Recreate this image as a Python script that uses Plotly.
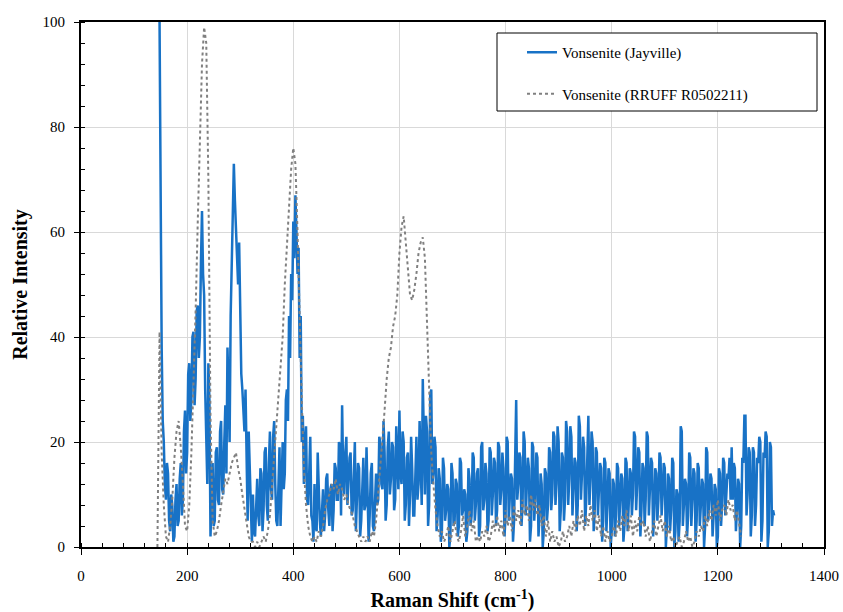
import plotly.graph_objects as go

# Raman shift grids (cm-1)
jayville_x = list(range(148, 1308, 2))
rruff_x = list(range(144, 1248, 4))

# Vonsenite (Jayville) relative intensity
jayville_y = [
    100, 60, 38, 24, 20, 12, 9, 16, 14, 5, 3, 10, 8, 1, 2, 9, 12, 4, 5, 13,
    16, 6, 9, 22, 26, 14, 18, 33, 35, 24, 28, 40, 41, 27, 32, 45, 46, 36, 40, 54,
    64, 52, 48, 30, 22, 12, 35, 28, 2, 10, 16, 4, 5, 18, 19, 9, 8, 22, 24, 11,
    10, 20, 27, 14, 38, 30, 20, 44, 55, 62, 73, 66, 60, 52, 50, 58, 40, 33, 30, 25,
    22, 30, 12, 5, 22, 13, 4, 1, 10, 3, 2, 8, 13, 6, 4, 15, 14, 3, 7, 18,
    19, 8, 5, 16, 22, 11, 9, 21, 24, 12, 5, 4, 12, 19, 4, 10, 20, 11, 14, 28,
    30, 24, 44, 36, 52, 47, 62, 55, 67, 60, 52, 57, 36, 44, 20, 25, 12, 20, 23, 9,
    8, 14, 21, 6, 5, 1, 12, 4, 3, 18, 9, 5, 2, 8, 11, 3, 6, 13, 14, 7,
    4, 11, 12, 3, 7, 16, 15, 9, 9, 20, 19, 6, 27, 14, 10, 18, 21, 8, 13, 17,
    18, 6, 7, 14, 20, 3, 11, 16, 15, 2, 5, 13, 17, 7, 8, 19, 12, 1, 6, 14,
    16, 4, 3, 11, 14, 8, 9, 21, 20, 12, 11, 24, 18, 5, 8, 19, 22, 10, 13, 20,
    19, 7, 9, 23, 17, 11, 26, 14, 12, 22, 20, 5, 8, 17, 18, 4, 10, 21, 15, 6,
    6, 16, 21, 9, 12, 24, 17, 8, 32, 20, 10, 25, 22, 4, 8, 29, 30, 12, 14, 21,
    19, 3, 6, 15, 13, 1, 3, 17, 15, 5, 7, 12, 11, 0, 2, 16, 14, 4, 5, 13,
    12, 2, 4, 17, 16, 6, 7, 11, 10, 1, 3, 15, 13, 4, 6, 18, 17, 5, 8, 14,
    15, 2, 4, 19, 20, 7, 9, 16, 14, 3, 5, 19, 18, 6, 10, 17, 16, 4, 7, 20,
    19, 8, 11, 18, 15, 2, 6, 21, 20, 5, 9, 14, 13, 1, 5, 22, 28, 9, 12, 18,
    17, 4, 8, 22, 20, 6, 11, 17, 15, 1, 4, 20, 19, 5, 9, 18, 17, 2, 6, 14,
    12, 0, 3, 15, 14, 5, 8, 19, 18, 7, 10, 22, 21, 8, 12, 23, 20, 3, 7, 18,
    17, 5, 9, 24, 22, 8, 13, 23, 21, 6, 11, 17, 16, 3, 8, 25, 23, 9, 14, 21,
    19, 4, 9, 21, 25, 8, 13, 22, 20, 3, 7, 19, 18, 6, 10, 16, 15, 1, 5, 17,
    16, 3, 8, 15, 14, 0, 3, 13, 12, 2, 6, 16, 15, 4, 9, 14, 13, 1, 4, 17,
    16, 3, 8, 15, 14, 6, 10, 22, 21, 7, 12, 19, 18, 2, 7, 16, 15, 4, 9, 22,
    21, 6, 11, 17, 16, 2, 6, 15, 14, 5, 9, 18, 17, 6, 10, 16, 15, 0, 4, 14,
    13, 3, 7, 17, 16, 0, 3, 11, 10, 1, 5, 23, 22, 4, 8, 13, 12, 2, 6, 18,
    17, 4, 9, 15, 14, 1, 5, 16, 15, 4, 8, 13, 12, 0, 4, 19, 18, 5, 9, 14,
    13, 2, 6, 12, 11, 0, 2, 15, 14, 4, 8, 17, 16, 6, 10, 14, 13, 17, 9, 19,
    9, 16, 15, 3, 7, 13, 12, 0, 4, 17, 16, 25, 25, 6, 10, 19, 18, 2, 6, 19,
    18, 4, 8, 17, 16, 21, 20, 1, 5, 18, 17, 22, 21, 0, 3, 20, 19, 4, 7, 6,
]

# Vonsenite (RRUFF R0502211) relative intensity
rruff_y = [
    0, 41, 18, 8, 2, 1, 4, 9, 17, 22,
    24, 19, 12, 4, 3, 8, 18, 30, 45, 62,
    80, 92, 99, 96, 70, 25, 5, 2, 3, 5,
    8, 11, 13, 12, 14, 16, 17, 18, 15, 13,
    10, 7, 4, 2, 1, 1, 0, 1, 0, 1,
    2, 1, 3, 6, 12, 18, 22, 28, 34, 40,
    50, 58, 65, 72, 76, 73, 60, 42, 28, 15,
    8, 4, 2, 1, 2, 1, 3, 2, 4, 7,
    9, 10, 12, 11, 13, 10, 12, 11, 9, 10,
    8, 7, 6, 4, 3, 2, 1, 2, 1, 2,
    1, 3, 2, 5, 10, 16, 20, 26, 32, 36,
    38, 42, 44, 48, 56, 61, 63, 58, 52, 48,
    47, 49, 52, 56, 58, 59, 55, 42, 28, 18,
    12, 7, 4, 2, 3, 1, 2, 4, 1, 3,
    5, 2, 1, 3, 6, 2, 4, 7, 3, 5,
    1, 2, 1, 3, 2, 4, 1, 2, 5, 3,
    6, 3, 5, 2, 7, 4, 6, 3, 8, 5,
    7, 4, 9, 6, 8, 5, 10, 7, 9, 6,
    8, 4, 6, 2, 5, 1, 3, 1, 2, 0,
    1, 3, 1, 2, 4, 2, 5, 3, 6, 4,
    7, 3, 6, 4, 8, 5, 7, 3, 6, 2,
    4, 1, 3, 1, 2, 4, 2, 5, 3, 6,
    4, 7, 3, 6, 2, 5, 3, 6, 4, 5,
    2, 4, 1, 3, 5, 2, 4, 6, 3, 5,
    2, 4, 1, 2, 0, 1, 2, 0, 1, 3,
    1, 2, 0, 1, 3, 2, 4, 3, 6, 4,
    7, 5, 8, 6, 9, 5, 7, 8, 6, 9,
    7, 8, 5, 7, 4, 2,
]

assert len(jayville_x) == len(jayville_y), (len(jayville_x), len(jayville_y))
assert len(rruff_x) == len(rruff_y), (len(rruff_x), len(rruff_y))

series_names = ["Vonsenite (Jayville)", "Vonsenite (RRUFF R0502211)"]

FONT = "Palatino Linotype, Book Antiqua, Palatino, Liberation Serif, serif"

fig = go.Figure()
fig.add_trace(go.Scatter(
    x=jayville_x, y=jayville_y, mode="lines", name=series_names[0],
    line=dict(color="#1872C6", width=2.5), legendgroup="a",
))
fig.add_trace(go.Scatter(
    x=rruff_x, y=rruff_y, mode="lines", name=series_names[1],
    line=dict(color="#808080", width=2, dash="dot"), legendgroup="b",
))

axis_common = dict(
    showline=True, linecolor="black", linewidth=2, mirror=True,
    showgrid=True, gridcolor="#d9d9d9", gridwidth=1, zeroline=False,
    ticks="outside", tickcolor="black", tickwidth=1,
    tickfont=dict(family=FONT, size=15, color="black"),
)

fig.update_xaxes(
    range=[0, 1400], dtick=200, tick0=0, ticklen=6, ticklabelstandoff=8,
    minor=dict(dtick=40, ticks="inside", ticklen=4, tickcolor="black", showgrid=False),
    title=dict(text="Raman Shift (cm<sup>-1</sup>)", font=dict(family=FONT, size=20, color="black"), standoff=10),
    **axis_common,
)
fig.update_yaxes(
    range=[0, 100], dtick=20, tick0=0, ticklen=5, ticklabelstandoff=6,
    minor=dict(dtick=4, ticks="inside", ticklen=4, tickcolor="black", showgrid=False),
    title=dict(text="Relative Intensity", font=dict(family=FONT, size=20, color="black"), standoff=10),
    **axis_common,
)

# legend frame
fig.add_shape(type="rect", xref="paper", yref="paper",
              x0=(497 - 81) / 743, x1=(817 - 81) / 743,
              y0=(547 - 111) / 525, y1=(547 - 33) / 525,
              line=dict(color="black", width=1), fillcolor="white", layer="above")

fig.update_layout(
    width=843, height=612,
    margin=dict(l=81, r=19, t=22, b=65, autoexpand=False),
    paper_bgcolor="white", plot_bgcolor="white",
    font=dict(family=FONT, color="black"),
    legend=dict(
        x=(522 - 81) / 743, y=(547 - 36) / 525, xanchor="left", yanchor="top",
        bgcolor="rgba(0,0,0,0)", borderwidth=0,
        font=dict(family=FONT, size=15, color="black"),
        tracegroupgap=19, itemwidth=30,
    ),
)
fig.update_layout(xaxis_title_font_weight="bold", yaxis_title_font_weight="bold")

fig.write_html("out.html")
